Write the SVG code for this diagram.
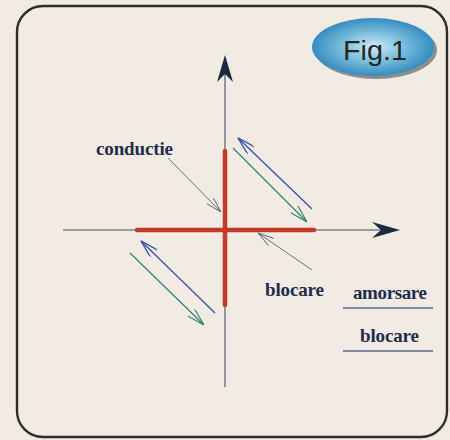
<svg xmlns="http://www.w3.org/2000/svg" width="450" height="440" viewBox="0 0 450 440">
<defs>
<style>
.lbl{font-family:"Liberation Serif","Times New Roman",serif;font-weight:bold;font-size:19px;fill:#1f2d4d}
.axis{stroke:#3f4f66;stroke-width:1.1;fill:none}
.red{stroke:#c23b2a;stroke-width:4.5;stroke-linecap:round;fill:none}
.blue{stroke:#3352a8;stroke-width:1.3;fill:none}
.green{stroke:#2b7d6c;stroke-width:1.1;fill:none}
.lead{stroke:#4f6275;stroke-width:0.9;fill:none}
.ul{stroke:#55688a;stroke-width:1.4;fill:none}
</style>
<marker id="mBlue" viewBox="0 0 18 10" refX="18" refY="5" markerWidth="18" markerHeight="10" markerUnits="userSpaceOnUse" orient="auto-start-reverse">
<path d="M0,0 L18,5 L0,10" fill="none" stroke="#3352a8" stroke-width="1.3"/>
</marker>
<marker id="mGreen" viewBox="0 0 18 10" refX="18" refY="5" markerWidth="18" markerHeight="10" markerUnits="userSpaceOnUse" orient="auto-start-reverse">
<path d="M0,0 L18,5 L0,10" fill="none" stroke="#2b7d6c" stroke-width="1.1"/>
</marker>
<marker id="mLead" viewBox="0 0 16 9" refX="16" refY="4.5" markerWidth="16" markerHeight="9" markerUnits="userSpaceOnUse" orient="auto-start-reverse">
<path d="M0,0 L16,4.5 L0,9" fill="none" stroke="#4f6275" stroke-width="0.9"/>
</marker>
<radialGradient id="gFig" cx="0.5" cy="0.5" r="0.55">
<stop offset="0" stop-color="#d2ecf4"/>
<stop offset="0.4" stop-color="#84c4e0"/>
<stop offset="1" stop-color="#2683bb"/>
</radialGradient>
</defs>
<rect width="450" height="440" fill="#f2ebe3"/>
<rect id="frame" x="17" y="6" width="430" height="431" rx="26" ry="26" fill="none" stroke="#2c2c2c" stroke-width="2.4"/>
<g id="fig-badge">
<ellipse cx="376" cy="50" rx="61" ry="29" fill="#8d8d8d"/>
<ellipse cx="373" cy="47" rx="61" ry="29" fill="url(#gFig)"/>
<text x="375" y="60" text-anchor="middle" font-family="Liberation Sans,Arial,sans-serif" font-size="27" fill="#262626" textLength="64" lengthAdjust="spacingAndGlyphs">Fig.1</text>
</g>
<g id="connectors">
<line class="axis" x1="225" y1="387" x2="225" y2="72"/>
<path d="M225,55 L233,82 L225,74 L217,82 Z" fill="#1c2a40"/>
<line class="axis" x1="63" y1="230" x2="384" y2="230"/>
<path d="M400,230 L372,238 L381,230 L372,222 Z" fill="#1c2a40"/>
<line class="red" x1="225" y1="151" x2="225" y2="305"/>
<line class="red" x1="137" y1="230" x2="314" y2="230"/>
<line class="blue" x1="312" y1="209" x2="238" y2="138" marker-end="url(#mBlue)"/>
<line class="green" x1="233" y1="148" x2="307" y2="222" marker-end="url(#mGreen)"/>
<line class="blue" x1="215" y1="313" x2="141" y2="241" marker-end="url(#mBlue)"/>
<line class="green" x1="130" y1="253" x2="204" y2="325" marker-end="url(#mGreen)"/>
<line class="lead" x1="168" y1="158" x2="221" y2="212" marker-end="url(#mLead)"/>
<line class="lead" x1="312" y1="270" x2="258" y2="233" marker-end="url(#mLead)"/>
<line class="ul" x1="343" y1="308" x2="433" y2="308"/>
<line class="ul" x1="343" y1="351" x2="433" y2="351"/>
</g>
<g id="label-conductie"><text class="lbl" x="96" y="155" textLength="77" lengthAdjust="spacing">conductie</text></g>
<g id="label-blocare"><text class="lbl" x="265" y="296" textLength="59" lengthAdjust="spacing">blocare</text></g>
<g id="legend-amorsare"><text class="lbl" x="353" y="299" textLength="74" lengthAdjust="spacing">amorsare</text></g>
<g id="legend-blocare"><text class="lbl" x="360" y="342" textLength="59" lengthAdjust="spacing">blocare</text></g>
</svg>
